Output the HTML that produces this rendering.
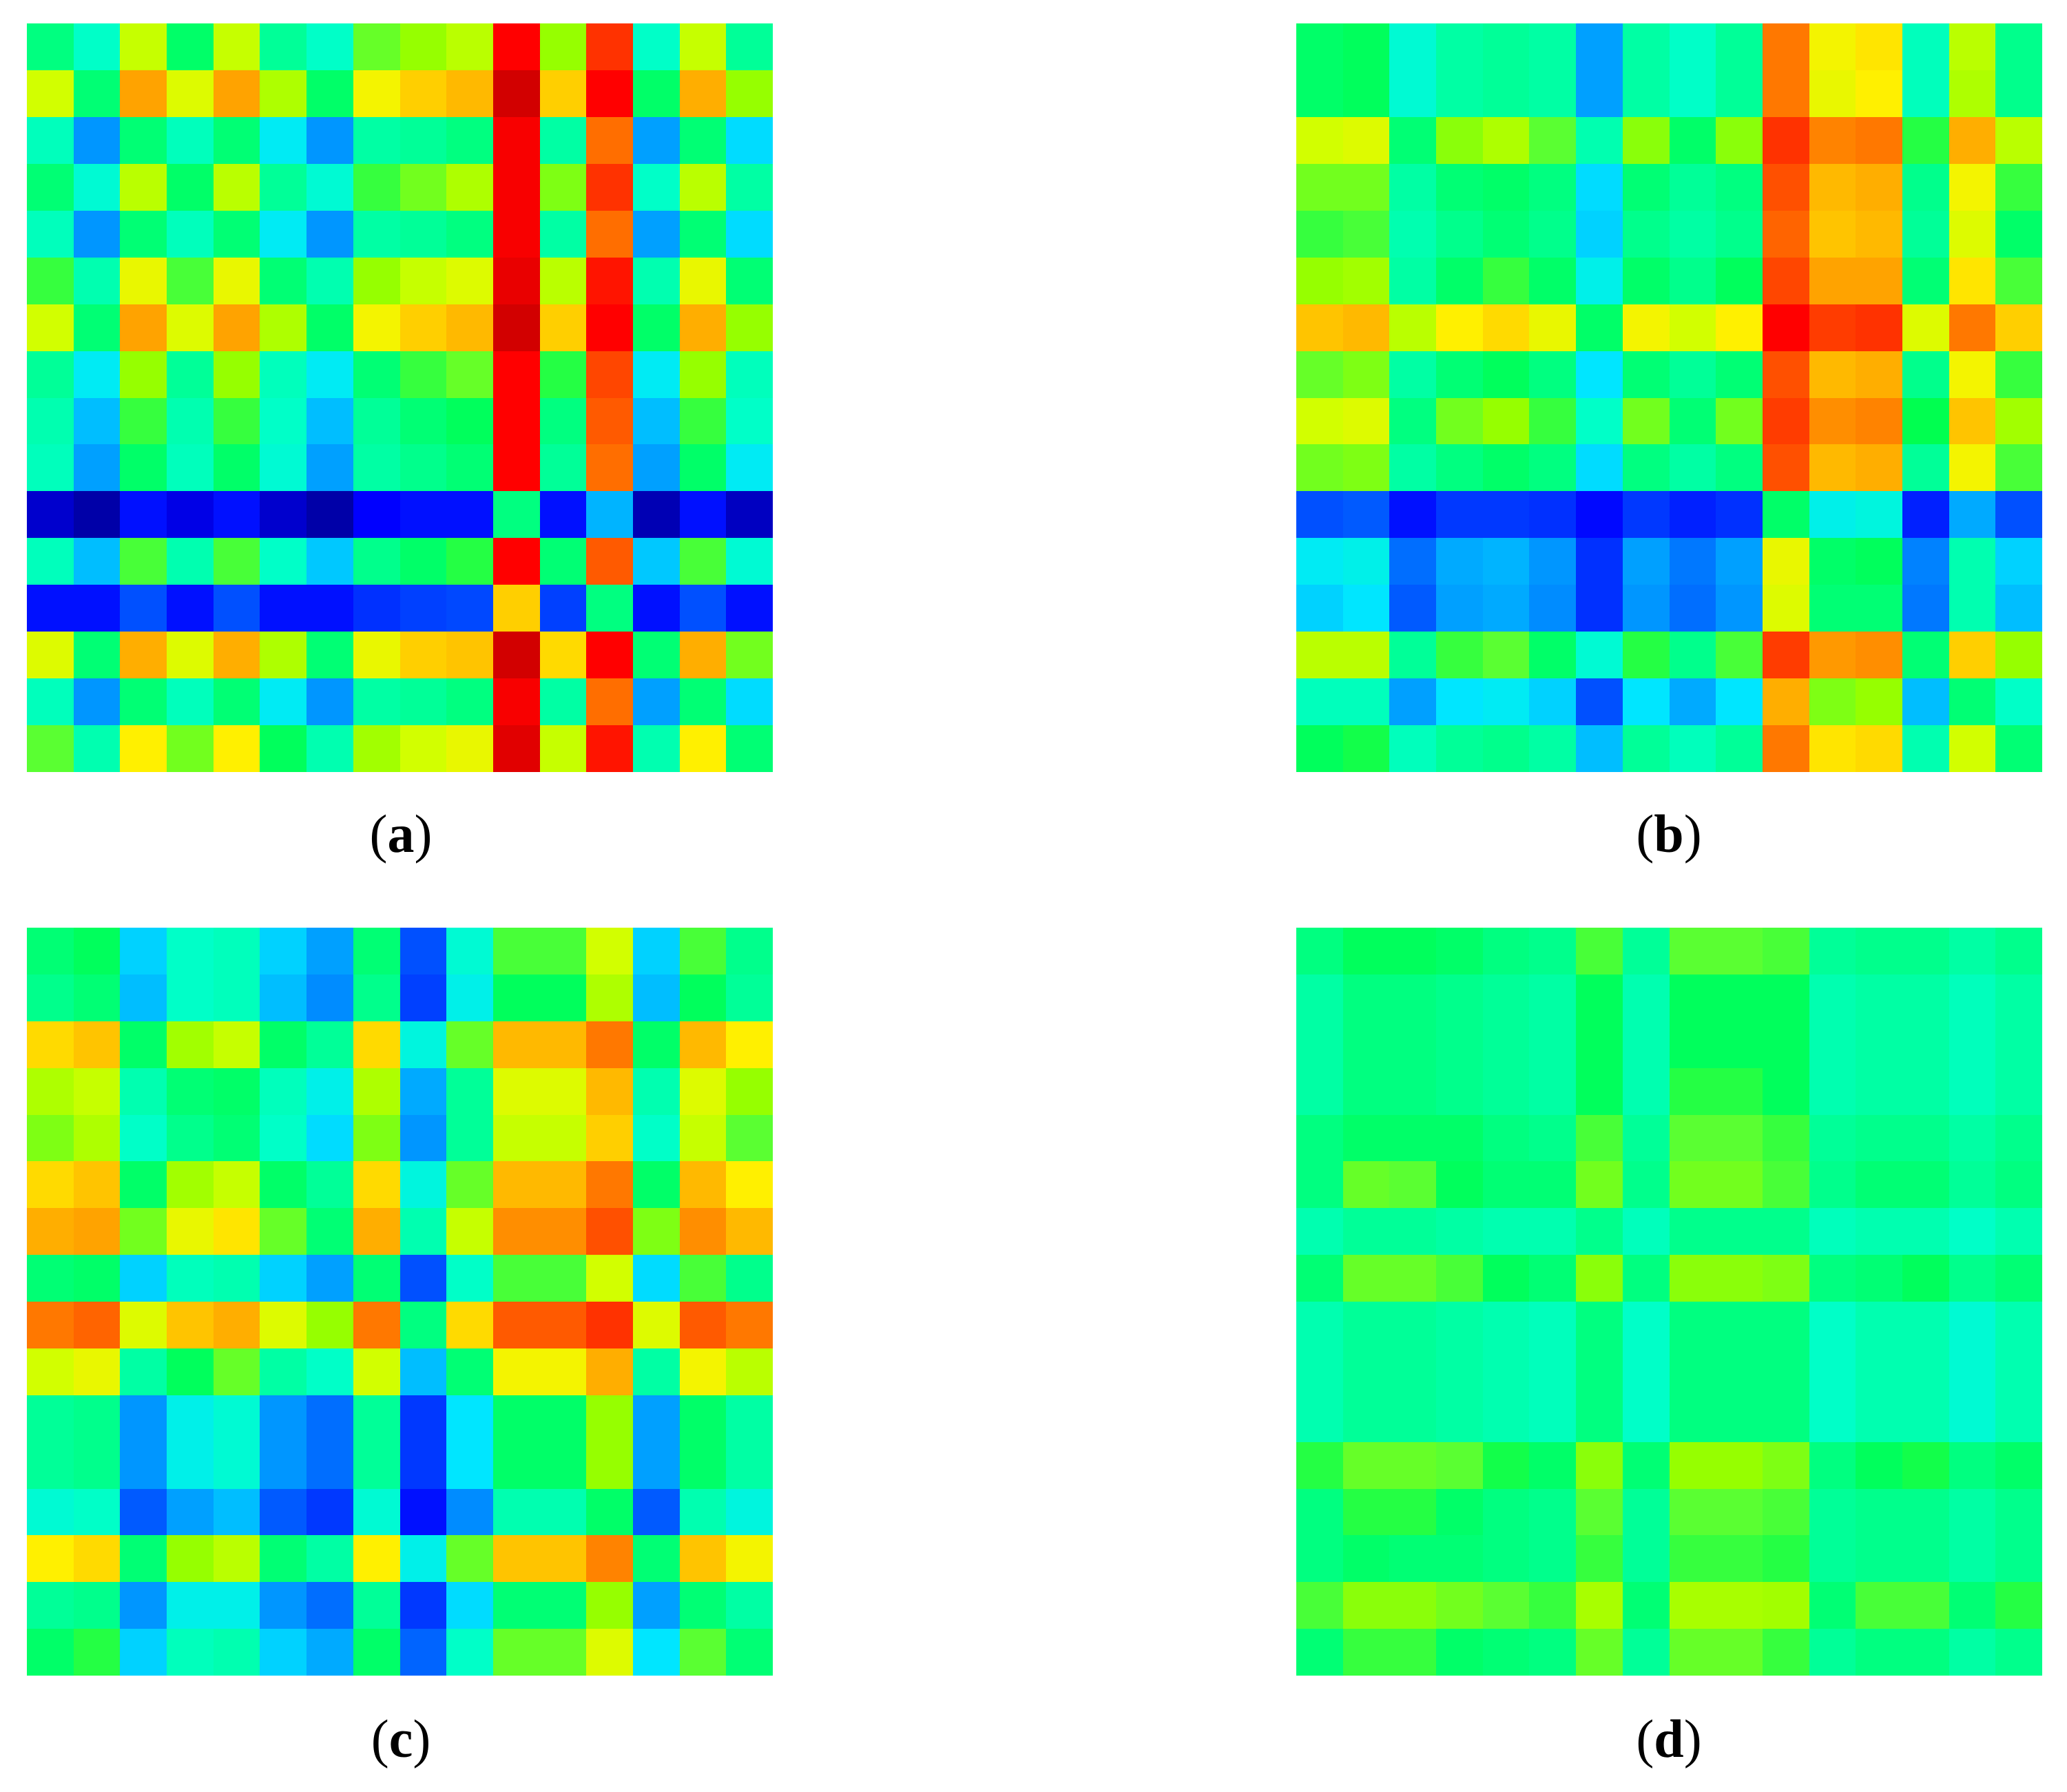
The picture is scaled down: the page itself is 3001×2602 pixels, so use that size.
<!DOCTYPE html>
<html><head><meta charset="utf-8">
<style>
html,body{margin:0;padding:0;background:#fff;}
#wrap{position:relative;width:3001px;height:2602px;background:#fff;overflow:hidden;}
svg{position:absolute;left:0;top:0;}
.lbl{position:absolute;font-family:"Liberation Serif",serif;font-size:78px;line-height:1;color:#000;transform:translateX(-50%);white-space:nowrap;}
.lbl b{font-weight:bold;}
</style></head>
<body>
<div id="wrap">
<svg id="chart" width="3001" height="2602"></svg>
<div class="lbl" style="left:582px;top:1172px;">(<b>a</b>)</div>
<div class="lbl" style="left:2423px;top:1172px;">(<b>b</b>)</div>
<div class="lbl" style="left:582px;top:2486px;">(<b>c</b>)</div>
<div class="lbl" style="left:2423px;top:2486px;">(<b>d</b>)</div>
</div>
<script>
const rowLabels=[...Array(16).keys()];
const colLabels=[...Array(16).keys()];
const matA=[
[0.46,0.4,0.64,0.48,0.64,0.44,0.4,0.56,0.6,0.63,0.92,0.6,0.87,0.4,0.64,0.44],
[0.65,0.47,0.76,0.66,0.76,0.62,0.48,0.68,0.72,0.74,0.98,0.72,0.92,0.48,0.75,0.6],
[0.41,0.27,0.47,0.41,0.47,0.36,0.27,0.43,0.44,0.46,0.93,0.43,0.81,0.28,0.47,0.34],
[0.47,0.39,0.63,0.48,0.63,0.44,0.39,0.53,0.57,0.62,0.93,0.58,0.87,0.4,0.63,0.43],
[0.41,0.27,0.47,0.41,0.47,0.36,0.27,0.43,0.44,0.46,0.93,0.43,0.81,0.28,0.47,0.34],
[0.53,0.42,0.67,0.54,0.67,0.47,0.42,0.6,0.64,0.66,0.95,0.63,0.9,0.42,0.67,0.47],
[0.65,0.47,0.76,0.66,0.76,0.62,0.48,0.68,0.72,0.74,0.98,0.72,0.92,0.48,0.75,0.6],
[0.44,0.36,0.6,0.44,0.6,0.41,0.36,0.47,0.53,0.56,0.92,0.52,0.85,0.36,0.6,0.41],
[0.42,0.31,0.53,0.42,0.53,0.4,0.31,0.44,0.47,0.49,0.92,0.46,0.83,0.31,0.53,0.4],
[0.41,0.28,0.48,0.41,0.48,0.39,0.28,0.43,0.45,0.47,0.92,0.44,0.81,0.28,0.48,0.36],
[0.06,0.03,0.12,0.08,0.12,0.06,0.03,0.1,0.12,0.12,0.46,0.12,0.3,0.04,0.12,0.05],
[0.41,0.31,0.54,0.42,0.54,0.4,0.32,0.45,0.48,0.52,0.92,0.47,0.83,0.32,0.54,0.39],
[0.12,0.12,0.2,0.12,0.2,0.12,0.12,0.16,0.18,0.19,0.72,0.18,0.46,0.12,0.2,0.12],
[0.66,0.47,0.75,0.66,0.75,0.62,0.47,0.67,0.72,0.73,0.98,0.71,0.92,0.47,0.75,0.57],
[0.41,0.27,0.47,0.41,0.47,0.36,0.27,0.43,0.44,0.46,0.93,0.43,0.81,0.28,0.47,0.34],
[0.55,0.42,0.69,0.57,0.69,0.49,0.42,0.61,0.65,0.67,0.96,0.64,0.9,0.42,0.69,0.47]];
const matB=[
[0.48,0.49,0.39,0.43,0.44,0.43,0.28,0.43,0.4,0.44,0.8,0.68,0.7,0.41,0.63,0.45],
[0.48,0.49,0.39,0.43,0.44,0.43,0.28,0.43,0.4,0.44,0.8,0.67,0.69,0.41,0.62,0.45],
[0.65,0.66,0.47,0.59,0.62,0.55,0.42,0.59,0.48,0.59,0.87,0.79,0.8,0.52,0.75,0.63],
[0.57,0.57,0.43,0.47,0.48,0.46,0.34,0.47,0.44,0.46,0.84,0.74,0.75,0.45,0.68,0.53],
[0.53,0.54,0.42,0.45,0.47,0.45,0.33,0.45,0.43,0.45,0.82,0.73,0.74,0.44,0.66,0.48],
[0.6,0.61,0.43,0.48,0.53,0.48,0.37,0.48,0.45,0.49,0.85,0.76,0.76,0.47,0.7,0.54],
[0.73,0.74,0.63,0.69,0.71,0.67,0.48,0.68,0.65,0.69,0.92,0.86,0.87,0.66,0.8,0.72],
[0.56,0.58,0.43,0.47,0.49,0.46,0.35,0.47,0.44,0.47,0.84,0.74,0.75,0.45,0.68,0.53],
[0.65,0.66,0.46,0.57,0.6,0.53,0.4,0.57,0.47,0.57,0.86,0.78,0.79,0.5,0.73,0.61],
[0.57,0.58,0.43,0.46,0.48,0.46,0.34,0.46,0.43,0.46,0.84,0.74,0.75,0.44,0.68,0.54],
[0.2,0.21,0.12,0.17,0.17,0.16,0.11,0.17,0.14,0.16,0.48,0.37,0.38,0.14,0.29,0.2],
[0.36,0.37,0.23,0.29,0.3,0.27,0.16,0.28,0.24,0.28,0.67,0.48,0.49,0.25,0.42,0.33],
[0.33,0.35,0.21,0.28,0.29,0.26,0.16,0.27,0.23,0.27,0.66,0.47,0.47,0.24,0.42,0.31],
[0.63,0.63,0.44,0.53,0.55,0.48,0.39,0.52,0.45,0.54,0.86,0.77,0.78,0.47,0.72,0.6],
[0.41,0.41,0.28,0.35,0.36,0.33,0.2,0.35,0.29,0.35,0.75,0.58,0.6,0.31,0.47,0.4],
[0.49,0.51,0.41,0.44,0.45,0.43,0.31,0.44,0.41,0.44,0.8,0.7,0.71,0.42,0.65,0.47]];
const matC=[
[0.47,0.49,0.33,0.4,0.41,0.33,0.28,0.47,0.2,0.39,0.54,0.54,0.65,0.33,0.54,0.45],
[0.45,0.47,0.31,0.4,0.41,0.31,0.26,0.45,0.18,0.37,0.49,0.49,0.62,0.31,0.49,0.44],
[0.71,0.73,0.48,0.61,0.64,0.48,0.44,0.71,0.38,0.56,0.74,0.74,0.8,0.48,0.74,0.69],
[0.62,0.64,0.42,0.47,0.48,0.41,0.37,0.62,0.29,0.44,0.66,0.66,0.74,0.42,0.66,0.6],
[0.58,0.62,0.4,0.45,0.47,0.4,0.34,0.58,0.27,0.44,0.64,0.64,0.72,0.4,0.64,0.55],
[0.71,0.73,0.48,0.61,0.64,0.48,0.44,0.71,0.38,0.56,0.74,0.74,0.8,0.48,0.74,0.69],
[0.75,0.76,0.57,0.67,0.7,0.56,0.47,0.75,0.42,0.64,0.78,0.78,0.84,0.58,0.78,0.74],
[0.47,0.48,0.33,0.41,0.42,0.33,0.28,0.47,0.2,0.4,0.54,0.54,0.65,0.34,0.54,0.45],
[0.8,0.82,0.66,0.73,0.75,0.66,0.6,0.8,0.46,0.71,0.83,0.83,0.87,0.66,0.83,0.8],
[0.65,0.67,0.43,0.49,0.56,0.43,0.4,0.65,0.31,0.47,0.68,0.68,0.75,0.43,0.68,0.63],
[0.44,0.45,0.27,0.37,0.39,0.27,0.23,0.44,0.17,0.35,0.48,0.48,0.6,0.28,0.48,0.43],
[0.44,0.45,0.27,0.37,0.39,0.27,0.23,0.44,0.17,0.35,0.48,0.48,0.6,0.28,0.48,0.43],
[0.39,0.4,0.21,0.28,0.31,0.21,0.17,0.39,0.12,0.26,0.42,0.42,0.48,0.21,0.42,0.38],
[0.69,0.71,0.47,0.6,0.63,0.47,0.43,0.69,0.37,0.56,0.73,0.73,0.79,0.47,0.73,0.68],
[0.44,0.45,0.27,0.37,0.37,0.27,0.23,0.44,0.17,0.34,0.47,0.47,0.6,0.28,0.47,0.43],
[0.48,0.52,0.33,0.41,0.42,0.33,0.29,0.48,0.22,0.4,0.56,0.56,0.66,0.35,0.55,0.47]];
const matD=[
[0.46,0.49,0.49,0.48,0.46,0.45,0.54,0.44,0.55,0.55,0.54,0.44,0.45,0.45,0.43,0.45],
[0.43,0.46,0.46,0.45,0.44,0.43,0.49,0.42,0.49,0.49,0.49,0.42,0.43,0.43,0.41,0.43],
[0.43,0.46,0.46,0.45,0.44,0.43,0.49,0.42,0.49,0.49,0.49,0.42,0.43,0.43,0.41,0.43],
[0.43,0.46,0.46,0.45,0.44,0.43,0.49,0.42,0.52,0.52,0.49,0.42,0.43,0.43,0.41,0.43],
[0.46,0.48,0.48,0.48,0.46,0.45,0.54,0.44,0.55,0.55,0.53,0.44,0.45,0.45,0.43,0.45],
[0.46,0.56,0.55,0.49,0.47,0.47,0.57,0.45,0.57,0.57,0.54,0.45,0.47,0.47,0.44,0.46],
[0.42,0.44,0.44,0.43,0.42,0.42,0.45,0.41,0.45,0.45,0.45,0.41,0.42,0.42,0.40,0.42],
[0.47,0.56,0.56,0.54,0.49,0.47,0.59,0.46,0.59,0.59,0.58,0.46,0.47,0.49,0.45,0.47],
[0.42,0.44,0.44,0.43,0.42,0.41,0.46,0.40,0.46,0.46,0.46,0.40,0.42,0.42,0.39,0.42],
[0.42,0.44,0.44,0.43,0.42,0.41,0.46,0.40,0.46,0.46,0.46,0.40,0.42,0.42,0.39,0.42],
[0.42,0.44,0.44,0.43,0.42,0.41,0.46,0.40,0.46,0.46,0.46,0.40,0.42,0.42,0.39,0.42],
[0.52,0.56,0.56,0.55,0.51,0.48,0.59,0.47,0.60,0.60,0.58,0.46,0.49,0.51,0.46,0.48],
[0.46,0.52,0.52,0.48,0.46,0.45,0.55,0.44,0.55,0.55,0.54,0.44,0.45,0.45,0.43,0.45],
[0.46,0.48,0.47,0.47,0.46,0.45,0.53,0.44,0.53,0.53,0.52,0.44,0.45,0.45,0.43,0.45],
[0.54,0.59,0.59,0.57,0.55,0.53,0.615,0.47,0.615,0.615,0.61,0.47,0.54,0.54,0.47,0.52],
[0.47,0.53,0.53,0.48,0.47,0.46,0.56,0.44,0.56,0.56,0.53,0.44,0.46,0.46,0.43,0.45]];

const stops=[[0,0,0,130],[0.10,0,0,255],[0.20,0,80,255],[0.28,0,160,255],[0.35,0,230,255],[0.40,0,255,200],[0.45,0,255,140],[0.50,0,255,80],[0.55,90,255,50],[0.60,150,255,0],[0.65,210,255,0],[0.69,255,240,0],[0.74,255,185,0],[0.80,255,120,0],[0.86,255,60,0],[0.92,255,0,0],[1.0,195,0,0]];
function color(v){
  v=Math.max(0,Math.min(1,v));
  for(let i=1;i<stops.length;i++){
    if(v<=stops[i][0]){
      const a=stops[i-1],b=stops[i],t=(v-a[0])/(b[0]-a[0]);
      const c=[1,2,3].map(k=>Math.round(a[k]+(b[k]-a[k])*t));
      return 'rgb('+c.join(',')+')';
    }
  }
  return 'rgb(195,0,0)';
}
const NS='http://www.w3.org/2000/svg';
const svg=document.getElementById('chart');
const panels=[
  {id:'a',m:matA,x0:39,x1:1122,y0:34,y1:1121},
  {id:'b',m:matB,x0:1882,x1:2965,y0:34,y1:1121},
  {id:'c',m:matC,x0:39,x1:1122,y0:1347,y1:2433},
  {id:'d',m:matD,x0:1882,x1:2965,y0:1347,y1:2433}];
panels.forEach(p=>{
  const g=document.createElementNS(NS,'g');
  
  
  g.setAttribute('shape-rendering','crispEdges');
  const nr=rowLabels.length,nc=colLabels.length;
  const xs=c=>p.x0+(p.x1-p.x0)*c/nc;
  const ys=r=>p.y0+(p.y1-p.y0)*r/nr;
  p.m.forEach((row,r)=>row.forEach((v,c)=>{
    const rc=document.createElementNS(NS,'rect');
    const x=Math.round(xs(c)),y=Math.round(ys(r));
    rc.setAttribute('x',x);rc.setAttribute('y',y);
    rc.setAttribute('width',Math.round(xs(c+1))-x);
    rc.setAttribute('height',Math.round(ys(r+1))-y);
    rc.setAttribute('fill',color(v));
    
    
    g.appendChild(rc);
  }));
  svg.appendChild(g);
});
</script>
</body></html>
